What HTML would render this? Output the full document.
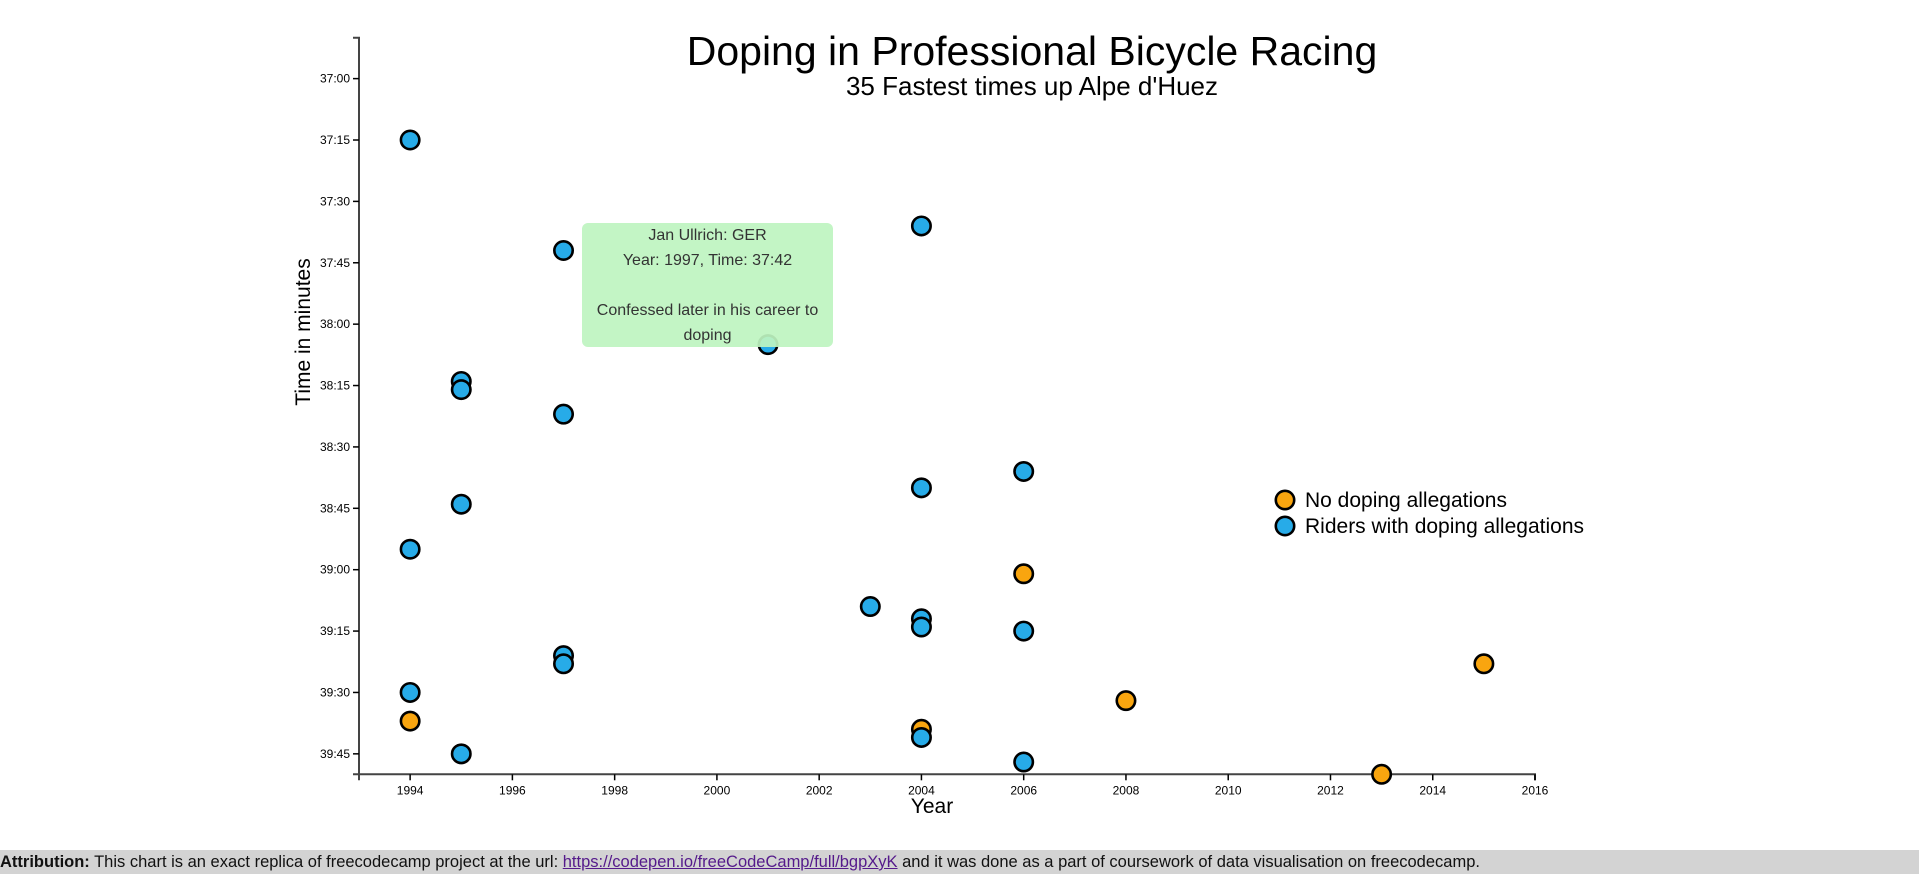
<!DOCTYPE html>
<html><head><meta charset="utf-8"><style>
body{margin:0;width:1919px;height:880px;background:#fff;overflow:hidden;font-family:"Liberation Sans",sans-serif;position:relative}
#tip{position:absolute;left:582px;top:223px;width:251px;height:124px;background:rgba(190,244,192,0.92);border-radius:6px;color:#333;font-size:16px;line-height:25px;text-align:center;padding-top:0px;box-sizing:border-box}
#attr{position:absolute;left:0;top:850px;width:1919px;height:24px;background:#d3d3d3;font-size:16.5px;line-height:24px;color:#111;white-space:nowrap}
#attr a{color:#551a8b;text-decoration:underline}
</style></head><body>
<svg id="chart" width="1919" height="850" style="position:absolute;left:0;top:0"></svg>
<div id="tip">Jan Ullrich: GER<br>Year: 1997, Time: 37:42<br><br>Confessed later in his career to<br>doping</div>
<div id="attr"><b>Attribution:</b> This chart is an exact replica of freecodecamp project at the url: <a>https://codepen.io/freeCodeCamp/full/bgpXyK</a> and it was done as a part of coursework of data visualisation on freecodecamp.</div>
<script>
const years=[1994,1997,2004,2001,1995,1995,1997,2006,2004,1995,1994,2006,2003,2004,2004,2006,1997,1997,2015,1994,2008,1994,2004,2004,1995,2006,2013];
const times=["37:15","37:42","37:36","38:05","38:14","38:16","38:22","38:36","38:40","38:44","38:55","39:01","39:09","39:12","39:14","39:15","39:21","39:23","39:23","39:30","39:32","39:37","39:39","39:41","39:45","39:47","39:50"];
const doping=[1,1,1,1,1,1,1,1,1,1,1,0,1,1,1,1,1,1,0,1,0,0,0,1,1,1,0];
const xTicks=[1994,1996,1998,2000,2002,2004,2006,2008,2010,2012,2014,2016];
const yTicks=["37:00","37:15","37:30","37:45","38:00","38:15","38:30","38:45","39:00","39:15","39:30","39:45"];
const NS="http://www.w3.org/2000/svg";
const svg=document.getElementById('chart');
function sec(t){const p=t.split(':');return +p[0]*60+ +p[1];}
const x0=359,x1=1535,y0=37.7,y1=774.3,ymin=sec("36:50"),ymax=sec("39:50");
function X(v){return x0+(v-1993)/(2016-1993)*(x1-x0);}
function Y(t){return y0+(sec(t)-ymin)/(ymax-ymin)*(y1-y0);}
function el(tag,a,txt){const e=document.createElementNS(NS,tag);for(const k in a)e.setAttribute(k,a[k]);if(txt!=null)e.textContent=txt;svg.appendChild(e);return e;}
let e;
e=el('text',{x:1032,y:65,'text-anchor':'middle','font-size':41,fill:'#000'},'Doping in Professional Bicycle Racing');


e=el('text',{x:1032,y:95,'text-anchor':'middle','font-size':26,fill:'#000'},"35 Fastest times up Alpe d'Huez");


e=el('path',{d:`M${x0-6},${y0}H${x0}V${y1}H${x0-6}`,stroke:'#444',fill:'none','stroke-width':2});


e=el('path',{d:`M${x0},${y1+6}V${y1}H${x1}V${y1+6}`,stroke:'#444',fill:'none','stroke-width':2});


yTicks.forEach(t=>{const y=Y(t);
 e=el('line',{x1:x0-6,x2:x0,y1:y,y2:y,stroke:'#000','stroke-width':1.5});
 
 
 e=el('text',{x:x0-9,y:y+4,'text-anchor':'end','font-size':12,fill:'#000'},t);
 
 });
xTicks.forEach(v=>{const x=X(v);
 e=el('line',{x1:x,x2:x,y1:y1,y2:y1+6,stroke:'#000','stroke-width':1.5});
 
 
 e=el('text',{x:x,y:y1+20,'text-anchor':'middle','font-size':12,fill:'#000'},v);
 
 });
e=el('text',{x:932,y:813,'text-anchor':'middle','font-size':21,fill:'#000'},'Year');


e=el('text',{x:0,y:0,transform:'translate(310,332) rotate(-90)','text-anchor':'middle','font-size':21,fill:'#000'},'Time in minutes');


years.forEach((yr,i)=>{
 e=el('circle',{cx:X(yr),cy:Y(times[i]),r:9.2,fill:doping[i]?'#27abe8':'#f9a50f',stroke:'#000','stroke-width':2.6});
 
 });
[["No doping allegations",'#f9a50f',500],["Riders with doping allegations",'#27abe8',526]].forEach(l=>{
 e=el('circle',{cx:1285,cy:l[2],r:9.2,fill:l[1],stroke:'#000','stroke-width':2.6});
 
 
 e=el('text',{x:1305,y:l[2]+7,'font-size':21,fill:'#000'},l[0]);
 
 });
</script>
</body></html>
